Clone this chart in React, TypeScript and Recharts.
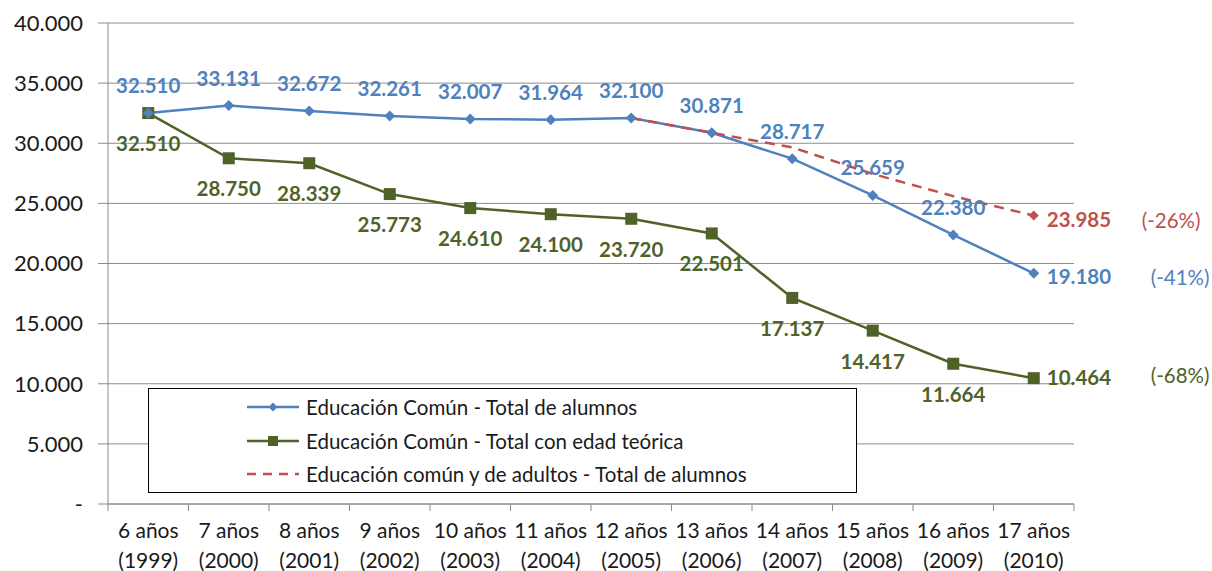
import { LineChart, Line, XAxis, YAxis, CartesianGrid, Legend } from 'recharts';

const edades = ['6 años', '7 años', '8 años', '9 años', '10 años', '11 años', '12 años', '13 años', '14 años', '15 años', '16 años', '17 años'];
const anios = ['(1999)', '(2000)', '(2001)', '(2002)', '(2003)', '(2004)', '(2005)', '(2006)', '(2007)', '(2008)', '(2009)', '(2010)'];

const totalAlumnos = [32510, 33131, 32672, 32261, 32007, 31964, 32100, 30871, 28717, 25659, 22380, 19180];
const totalEdadTeorica = [32510, 28750, 28339, 25773, 24610, 24100, 23720, 22501, 17137, 14417, 11664, 10464];
const totalAdultos = [null, null, null, null, null, null, 32100, 30871, 29650, 27450, 25600, 23985];

const yTicks = [0, 5000, 10000, 15000, 20000, 25000, 30000, 35000, 40000];

const BLUE = '#4F81BD';
const GREEN = '#4F6228';
const RED = '#C0504D';
const FONT = 'Lato, "Noto Sans", sans-serif';

const series = [
  { key: 'total', name: 'Educación Común - Total de alumnos', color: BLUE, variacion: '(-41%)' },
  { key: 'teorica', name: 'Educación Común - Total con edad teórica', color: GREEN, variacion: '(-68%)' },
  { key: 'adultos', name: 'Educación común y de adultos - Total de alumnos', color: RED, variacion: '(-26%)' },
];

const data = edades.map((edad, i) => ({
  edad,
  anio: anios[i],
  total: totalAlumnos[i],
  teorica: totalEdadTeorica[i],
  adultos: totalAdultos[i],
}));

const last = data.length - 1;

const fmt = (n: number) => String(n).replace(/\B(?=(\d{3})+(?!\d))/g, '.');

const Diamond = ({ cx, cy, color, r = 5.5 }: any) => (
  <path d={`M${cx},${cy - r}L${cx + r},${cy}L${cx},${cy + r}L${cx - r},${cy}Z`} fill={color} />
);

const Square = ({ cx, cy, color, s = 6 }: any) => (
  <rect x={cx - s} y={cy - s} width={s * 2} height={s * 2} fill={color} />
);

const makeLabel = (color: string, where: 'above' | 'below', variacion: string, pctOffset: number, onlyLast = false) =>
  (props: any) => {
    const { x, y, value, index } = props;
    if (value == null || x == null) return null;
    if (onlyLast && index !== last) return null;
    if (index === last) {
      return (
        <g fontFamily={FONT}>
          <text x={x + 13} y={y + (where === 'below' ? -1 : 3)} fill={color} fontSize={20.5} fontWeight="bold" dominantBaseline="central">
            {fmt(value)}
          </text>
          <text x={x + pctOffset} y={y + (where === 'below' ? -3 : 4)} fill={color} fontSize={20.5} dominantBaseline="central">
            {variacion}
          </text>
        </g>
      );
    }
    return (
      <text
        x={x}
        y={where === 'above' ? y - 28 : y + 30}
        fill={color}
        fontSize={20.5}
        fontWeight="bold"
        fontFamily={FONT}
        textAnchor="middle"
        dominantBaseline="central"
      >
        {fmt(value)}
      </text>
    );
  };

const XTick = (props: any) => {
  const { x, y, payload, index, width, visibleTicksCount } = props;
  const band = width / visibleTicksCount;
  const row = data[index];
  return (
    <g>
      <line x1={x - band / 2} y1={y - 8} x2={x - band / 2} y2={y - 1} stroke="#8c8c8c" />
      {index === visibleTicksCount - 1 && (
        <line x1={x + band / 2} y1={y - 8} x2={x + band / 2} y2={y - 1} stroke="#8c8c8c" />
      )}
      <text x={x} y={y + 26} textAnchor="middle" fontSize={21} fontFamily={FONT} fill="#1a1a1a">
        <tspan x={x} dy={0}>{payload.value}</tspan>
        <tspan x={x} dy={30}>{row ? row.anio : ''}</tspan>
      </text>
    </g>
  );
};

const LegendBox = () => (
  <div
    style={{
      border: '1px solid #000',
      background: '#fff',
      width: 707,
      height: 103,
      boxSizing: 'content-box',
      fontFamily: FONT,
      fontSize: 20.5,
      color: '#1a1a1a',
      position: 'relative',
    }}
  >
    {series.map((s, i) => (
      <div key={s.key} style={{ position: 'absolute', left: 97, top: 6 + i * 33.5, height: 24, display: 'flex', alignItems: 'center' }}>
        <svg width={54} height={14} style={{ marginRight: 6 }}>
          {s.key === 'adultos' ? (
            <line x1={1} y1={7} x2={53} y2={7} stroke={s.color} strokeWidth={2.5} strokeDasharray="9 7" />
          ) : (
            <line x1={1} y1={7} x2={53} y2={7} stroke={s.color} strokeWidth={2.5} />
          )}
          {s.key === 'total' && <Diamond cx={27} cy={7} r={4.5} color={s.color} />}
          {s.key === 'teorica' && <Square cx={27} cy={7} s={5} color={s.color} />}
        </svg>
        <span>{s.name}</span>
      </div>
    ))}
  </div>
);

export default function App() {
  return (
    <div style={{ position: 'absolute', left: 0, top: 0, width: 1212, height: 571, background: '#fff' }}>
      <LineChart width={1212} height={571} data={data} margin={{ top: 23, right: 138, left: 0, bottom: 0 }}>
        <CartesianGrid horizontal vertical={false} stroke="#8c8c8c" strokeWidth={1} />
        <XAxis
          dataKey="edad"
          scale="band"
          interval={0}
          tick={<XTick />}
          tickLine={false}
          axisLine={{ stroke: '#8c8c8c' }}
          height={67}
        />
        <YAxis
          domain={[0, 40000]}
          ticks={yTicks}
          interval={0}
          width={108}
          tickSize={10}
          tickMargin={15}
          tickLine={{ stroke: '#8c8c8c' }}
          axisLine={{ stroke: '#8c8c8c' }}
          tick={{ fontSize: 22, fontFamily: FONT, fill: '#1a1a1a' }}
          tickFormatter={(v: number) => (v === 0 ? '-' : fmt(v))}
        />
        <Legend
          content={<LegendBox />}
          layout="vertical"
          align="center"
          verticalAlign="middle"
          wrapperStyle={{ left: 148, top: 388, width: 709, height: 105 }}
        />
        <Line
          dataKey="teorica"
          name={series[1].name}
          stroke={GREEN}
          strokeWidth={2.5}
          isAnimationActive={false}
          dot={(p: any) => <Square key={p.index} cx={p.cx} cy={p.cy} color={GREEN} />}
          activeDot={false}
          label={makeLabel(GREEN, 'below', series[1].variacion, 117)}
        />
        <Line
          dataKey="total"
          name={series[0].name}
          stroke={BLUE}
          strokeWidth={2.5}
          isAnimationActive={false}
          dot={(p: any) => <Diamond key={p.index} cx={p.cx} cy={p.cy} color={BLUE} />}
          activeDot={false}
          label={makeLabel(BLUE, 'above', series[0].variacion, 117)}
        />
        <Line
          dataKey="adultos"
          name={series[2].name}
          stroke={RED}
          strokeWidth={2.5}
          strokeDasharray="10 7"
          isAnimationActive={false}
          connectNulls={false}
          dot={(p: any) => (p.index === last ? <Diamond key={p.index} cx={p.cx} cy={p.cy} r={5} color={RED} /> : <g key={p.index} />)}
          activeDot={false}
          label={makeLabel(RED, 'above', series[2].variacion, 108, true)}
        />
      </LineChart>
    </div>
  );
}
